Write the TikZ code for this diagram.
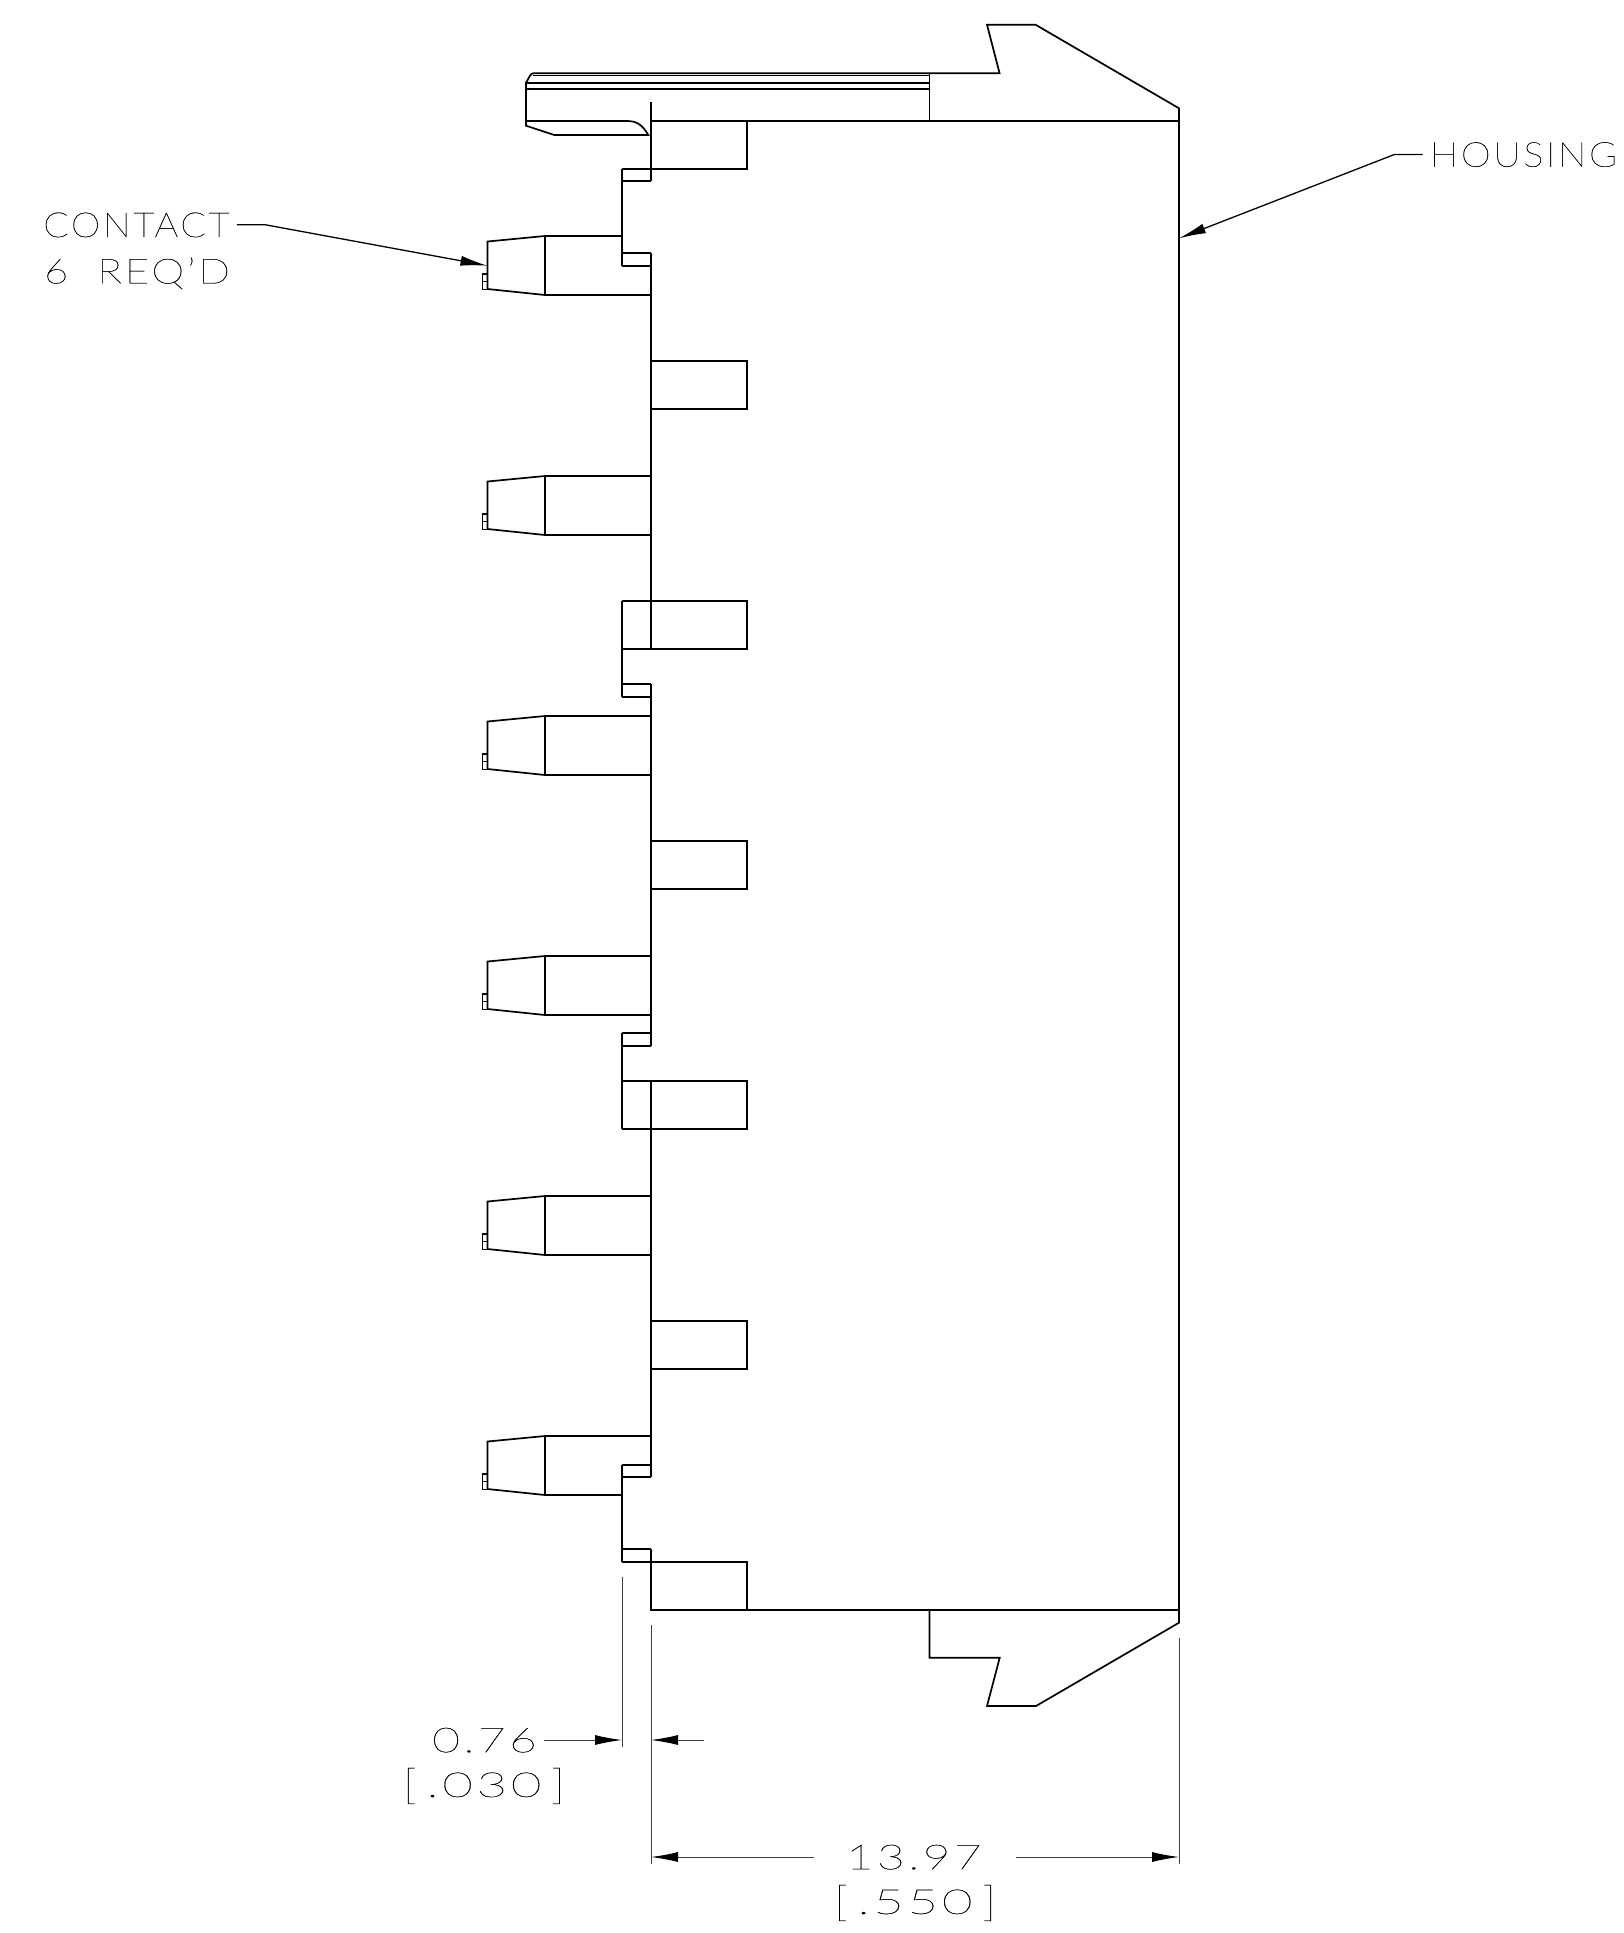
\documentclass[tikz,border=0pt]{standalone}
\usepackage{fontspec}
\setmainfont[LetterSpace=7,Ligatures=TeX,FakeBold=0.5]{Lato Thin}
\usetikzlibrary{arrows.meta}
\newcommand{\stretchtext}[2]{\scalebox{#1}[1]{#2}}
\newcommand{\tallbr}[1]{\raisebox{-2pt}{\scalebox{1}[1.2]{#1}}}
\tikzset{
part/.style={line width=1.7pt, line join=miter},
thinline/.style={line width=0.9pt, black!75},
leader/.style={line width=1.3pt, -{Latex[length=27pt,width=10pt]}},
dimline/.style={line width=1pt, black!75, -{Latex[length=27pt,width=10pt,black]}},
lbl/.style={inner sep=0pt, text depth=0pt, text=black, font=\fontsize{34.5}{34.5}\selectfont}
}
\begin{document}
\begin{tikzpicture}[x=1pt,y=-1pt]
\useasboundingbox (0,0) rectangle (1623,1933);
\draw[part] (526,81.7) to[out=-90,in=180] (533.3,73.3)--(929.5,73.3)--(999.6,73.3)--(987,24.7)--(1035.5,24.7)--(1179,108.3)--(1179,1622.7)--(1036,1706)--(987,1706)--(999.7,1657.7)--(929.5,1657.7)--(929.5,1610);
\draw[part] (533.3,75.5)--(929.5,75.5);
\draw[part] (526,83.3)--(929.5,83.3);
\draw[part] (526,88.7)--(929.5,88.7);
\draw[part] (929.5,73.3)--(929.5,121);
\draw[part] (526,81.7)--(526,125.7)--(554.3,135)--(648.3,135) .. controls (642,124) and (636,121) .. (626.7,121)--(526,121);
\draw[part] (651,121)--(1179,121);
\draw[part] (651,1610)--(1179,1610);
\draw[part] (651,102)--(651,181);
\draw[part] (651,253)--(651,649);
\draw[part] (651,684)--(651,1046);
\draw[part] (651,1081)--(651,1477);
\draw[part] (651,1549)--(651,1610);
\draw[part] (622,169)--(622,266);
\draw[part] (622,601)--(622,697);
\draw[part] (622,1033)--(622,1129);
\draw[part] (622,1465)--(622,1562);
\foreach \y in {169,181,253,266,601,649,684,697,1033,1046,1081,1129,1465,1477,1549,1562}
  \draw[part] (622,\y)--(651,\y);
\foreach \y in {121,361,601,841,1081,1321,1562}
  \draw[part] (651,\y) rectangle (747,\y+48);
\foreach \y in {236,476,716,956,1196,1436} {
  \draw[part] (622,\y)--(545,\y)--(487.5,\y+5.5)--(487.5,\y+53)--(545,\y+59)--(622,\y+59);
  \draw[part] (545,\y)--(545,\y+59);
  \draw[line width=1.2pt] (487.5,\y+38)--(482.7,\y+38)--(482.7,\y+53.5)--(487.5,\y+53.5);
  \draw[line width=1.2pt] (482.7,\y+45.5)--(487.5,\y+45.5);
}
\foreach \y in {476,716,956,1196,1436}
  \draw[part] (622,\y)--(651,\y);
\foreach \y in {236,476,716,956,1196}
  \draw[part] (622,\y+59)--(651,\y+59);
\node[lbl] (contact) at (136.5,224.8) {\stretchtext{1.08}{CONTACT}};
\node[lbl] (req) at (137,270.5) {\stretchtext{1.21}{6\hspace{24pt}REQ'D}};
\node[lbl] (housing) at (1523.5,154.5) {\stretchtext{1.1}{HOUSING}};
\node[lbl] (dimsmall) at (484.5,1740) {\stretchtext{1.39}{0.76}};
\node[lbl] (dimsmallin) at (483.9,1782.4) {\stretchtext{1.39}{\tallbr{[}\hspace{7pt}\stretchtext{1.1}{.030}\hspace{7pt}\tallbr{]}}};
\node[lbl] (dimwide) at (913.8,1857) {\stretchtext{1.39}{13.97}};
\node[lbl] (dimwidein) at (915,1899.4) {\stretchtext{1.39}{\tallbr{[}\hspace{7pt}\stretchtext{1.1}{.550}\hspace{7pt}\tallbr{]}}};
\coordinate (contacttip) at (487.5,265.7);
\coordinate (housingtip) at (1179,238.3);
\coordinate (toothleft) at (622,1740);
\coordinate (wallleft) at (651,1740);
\coordinate (wallstart) at (651,1857);
\coordinate (wallend) at (1179,1857);
\draw[leader] ([xshift=7pt]contact.east)--++(28.6,0)--(contacttip);
\draw[leader] ([xshift=-7pt]housing.west)--++(-28.3,0)--(housingtip);
\draw[dimline] ([xshift=7pt]dimsmall.east)--(toothleft);
\draw[dimline] (704,1740)--(wallleft);
\draw[dimline] ([xshift=-32pt]dimwide.west)--(wallstart);
\draw[dimline] ([xshift=34pt]dimwide.east)--(wallend);
\draw[thinline] (622,1576.7)--(622,1747.3);
\draw[thinline] (651,1625)--(651,1864.3);
\draw[thinline] (1179,1637.7)--(1179,1864.3);
\end{tikzpicture}
\end{document}
